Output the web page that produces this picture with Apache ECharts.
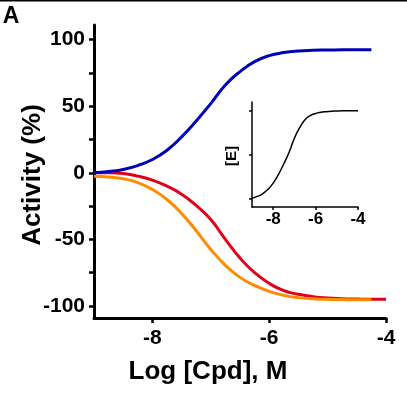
<!DOCTYPE html>
<html>
<head>
<meta charset="utf-8">
<script src="https://cdn.jsdelivr.net/npm/echarts@6/dist/echarts.min.js"></script>
<style>html,body{margin:0;padding:0;background:#fff}#c{width:407px;height:393px}</style>
</head>
<body>
<div id="c"></div>
<script>
// Log concentration grid (x values, log M)
const logCpd = [-9, -8.75, -8.5, -8.25, -8, -7.75, -7.5, -7.25, -7, -6.75, -6.5, -6.25, -6, -5.75, -5.5, -5.25, -5, -4.75, -4.5, -4.25, -4];
// Main panel series (Activity %)
const blueActivity = [0, 1, 2.5, 5.5, 10, 17, 27, 39, 52, 66, 76, 83.5, 88, 90.3, 91.5, 92, 92.2, 92.4, 92.5, 92.5];
const redActivity = [0, 0, -0.5, -2.5, -5.5, -10, -16, -24.5, -35, -50, -64, -75, -83, -88.5, -91.2, -93, -94, -94.5, -94.8, -95, -95];
const orangeActivity = [-2.5, -3.2, -4.5, -7.3, -12.5, -20, -30.5, -43.5, -57.5, -69.5, -78.5, -84.5, -89, -92, -93.7, -94.5, -95, -95.2, -95.3, -95.3];
// Inset series ([E], fraction)
const insetE = [0.01, 0.03, 0.06, 0.11, 0.18, 0.28, 0.40, 0.53, 0.69, 0.81, 0.90, 0.945, 0.97, 0.983, 0.99, 0.995, 0.998, 1.0, 1.0, 1.0, 1.0];
// Tick labels
const mainXTicks = [-8, -6, -4];
const mainYLabels = [-100, -50, 0, 50, 100];
const mainYTicks = [-100, -75, -50, -25, 0, 25, 50, 75, 100];
const insetXTicks = [-8, -6, -4];
const insetYTicks = [0, 0.5, 1];

const pairs = (xs, ys) => ys.map((y, i) => [xs[i], y]);
const FONT = 'Liberation Sans';

const chart = echarts.init(document.getElementById('c'), null, {renderer: 'canvas'});
chart.setOption({
  animation: false,
  backgroundColor: '#fff',
  grid: [
    {left: 94, top: 25, width: 292, height: 293},
    {left: 252, top: 102, width: 106, height: 105}
  ],
  xAxis: [
    {
      gridIndex: 0, type: 'value', min: -9, max: -4,
      splitLine: {show: false},
      axisLine: {onZero: false, lineStyle: {color: '#000', width: 3}},
      axisTick: {customValues: mainXTicks, length: 5, lineStyle: {color: '#000', width: 2.5}},
      axisLabel: {customValues: mainXTicks, margin: 10, color: '#000', fontSize: 21, fontWeight: 'bold', fontFamily: FONT}
    },
    {
      gridIndex: 1, type: 'value', min: -9, max: -4,
      splitLine: {show: false},
      axisLine: {onZero: false, lineStyle: {color: '#000', width: 1.5}},
      axisTick: {customValues: insetXTicks, length: 3, lineStyle: {color: '#000', width: 1.5}},
      axisLabel: {customValues: insetXTicks, margin: 4, color: '#000', fontSize: 17, fontWeight: 'bold', fontFamily: FONT}
    }
  ],
  yAxis: [
    {
      gridIndex: 0, type: 'value', min: -109, max: 111,
      splitLine: {show: false},
      axisLine: {onZero: false, lineStyle: {color: '#000', width: 3}},
      axisTick: {customValues: mainYTicks, length: 5, lineStyle: {color: '#000', width: 2.5}},
      axisLabel: {customValues: mainYLabels, margin: 9, color: '#000', fontSize: 21, fontWeight: 'bold', fontFamily: FONT}
    },
    {
      gridIndex: 1, type: 'value', min: -0.09, max: 1.1,
      splitLine: {show: false},
      axisLine: {onZero: false, lineStyle: {color: '#000', width: 1.5}},
      axisTick: {customValues: insetYTicks, length: 3, lineStyle: {color: '#000', width: 1.5}},
      axisLabel: {show: false}
    }
  ],
  series: [
    {type: 'line', xAxisIndex: 0, yAxisIndex: 0, data: pairs(logCpd, redActivity), smooth: true, showSymbol: false, lineStyle: {color: '#e0001a', width: 3}},
    {type: 'line', xAxisIndex: 0, yAxisIndex: 0, data: pairs(logCpd, orangeActivity), smooth: true, showSymbol: false, lineStyle: {color: '#ff8c00', width: 3}},
    {type: 'line', xAxisIndex: 0, yAxisIndex: 0, data: pairs(logCpd, blueActivity), smooth: true, showSymbol: false, lineStyle: {color: '#0000b4', width: 3}},
    {type: 'line', xAxisIndex: 1, yAxisIndex: 1, data: pairs(logCpd, insetE), smooth: 0.5, showSymbol: false, lineStyle: {color: '#000', width: 1.5}}
  ],
  graphic: [
    {type: 'rect', left: 0, top: 0, shape: {width: 407, height: 1.5}, style: {fill: '#000'}},
    {type: 'text', x: 11, y: 17, style: {text: 'A', fill: '#000', font: 'bold 23px "Liberation Sans"', align: 'center', verticalAlign: 'middle'}},
    {type: 'text', x: 33, y: 175, rotation: Math.PI / 2, style: {text: 'Activity (%)', fill: '#000', font: 'bold 26px "Liberation Sans"', align: 'center', verticalAlign: 'middle'}},
    {type: 'text', x: 208, y: 372, style: {text: 'Log [Cpd], M', fill: '#000', font: 'bold 26px "Liberation Sans"', align: 'center', verticalAlign: 'middle'}},
    {type: 'text', x: 232, y: 156, rotation: Math.PI / 2, style: {text: '[E]', fill: '#000', font: 'bold 15px "Liberation Sans"', align: 'center', verticalAlign: 'middle'}}
  ]
});
</script>
</body>
</html>
